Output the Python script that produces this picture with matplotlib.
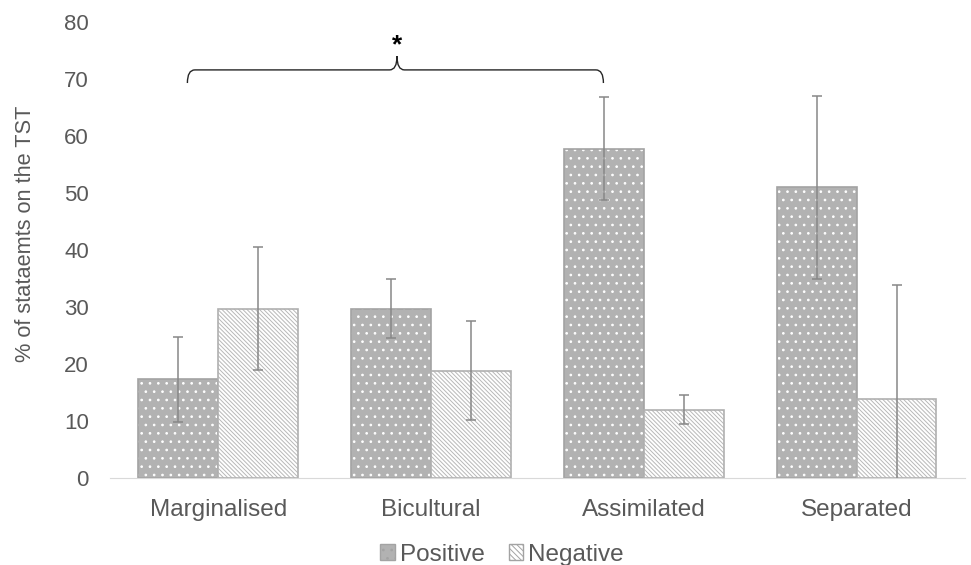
import numpy as np
import matplotlib
matplotlib.use("Agg")
import matplotlib.pyplot as plt
from matplotlib.patches import Patch
from matplotlib.path import Path
from matplotlib.patches import PathPatch

plt.rcParams['font.family'] = ['Liberation Sans', 'DejaVu Sans']
plt.rcParams['hatch.linewidth'] = 0.7

categories = ['Marginalised', 'Bicultural', 'Assimilated', 'Separated']
positive = [17.3, 29.7, 57.8, 51.0]
positive_err = [7.5, 5.2, 9.0, 16.0]
negative = [29.7, 18.8, 12.0, 13.8]
negative_err = [10.8, 8.7, 2.6, 20.0]

txt = '#595959'
x = np.arange(len(categories))
w = 0.375

fig = plt.figure(figsize=(9.71, 5.65), dpi=100)
ax = fig.add_axes([0.113, 0.154, 0.881, 0.807])

# positive: grey with small white dots
ax.bar(x - w/2, positive, w, color='#b2b2b2', edgecolor='white', hatch='..', linewidth=0)
ax.bar(x - w/2, positive, w, color='none', edgecolor='#a3a3a3', linewidth=1.2)
# negative: white with thin grey diagonal lines
ax.bar(x + w/2, negative, w, color='white', edgecolor='#b8b8b8', hatch='\\' * 8, linewidth=0)
ax.bar(x + w/2, negative, w, color='none', edgecolor='#b0b0b0', linewidth=1.2)

ax.errorbar(x - w/2, positive, yerr=positive_err, fmt='none', ecolor='#878787',
            elinewidth=1.1, capsize=3.8, capthick=1.1)
ax.errorbar(x + w/2, negative, yerr=negative_err, fmt='none', ecolor='#878787',
            elinewidth=1.1, capsize=3.8, capthick=1.1)

ax.set_ylim(0, 80)
ax.set_xlim(-0.51, 3.51)
ax.set_yticks(range(0, 81, 10))
ax.set_xticks(x)
ax.set_xticklabels(categories, fontsize=17.5)
ax.tick_params(axis='both', length=0, colors=txt)
ax.tick_params(axis='x', pad=15)
ax.tick_params(axis='y', labelsize=16, pad=15)
for s in ['top', 'right', 'left']:
    ax.spines[s].set_visible(False)
ax.spines['bottom'].set_color('#d9d9d9')
ax.set_ylabel('% of stataemts on the TST', fontsize=15.7, color=txt)
ax.yaxis.set_label_coords(-0.086, 0.535)

# curly bracket over Marginalised..Assimilated
x0, x1 = -0.145, 1.81
xm = 0.84
yb, yt, yp = 69.3, 71.6, 74.0
r = 0.035
verts = [(x0, yb), (x0, yt), (x0 + r, yt),
         (xm - r, yt), (xm, yt), (xm, yp),
         (xm, yt), (xm + r, yt),
         (x1 - r, yt), (x1, yt), (x1, yb)]
codes = [Path.MOVETO, Path.CURVE3, Path.CURVE3,
         Path.LINETO, Path.CURVE3, Path.CURVE3,
         Path.CURVE3, Path.CURVE3,
         Path.LINETO, Path.CURVE3, Path.CURVE3]
ax.add_patch(PathPatch(Path(verts, codes), fill=False, edgecolor='#262626', lw=1.0, clip_on=False))
ax.text(xm, 76.0, '*', ha='center', va='center', fontsize=19, fontweight='bold', color='black')

handles = [Patch(facecolor='#b2b2b2', edgecolor='#a3a3a3', hatch='..'),
           Patch(facecolor='white', edgecolor='#a3a3a3', hatch='\\' * 6)]
fig.legend(handles, ['Positive', 'Negative'], loc='lower center', ncol=2, frameon=False,
           fontsize=17.5, labelcolor=txt, bbox_to_anchor=(0.517, -0.04),
           handlelength=0.6, handleheight=0.6, handletextpad=0.2, columnspacing=1.0)

fig.savefig('out.png', dpi=100)
